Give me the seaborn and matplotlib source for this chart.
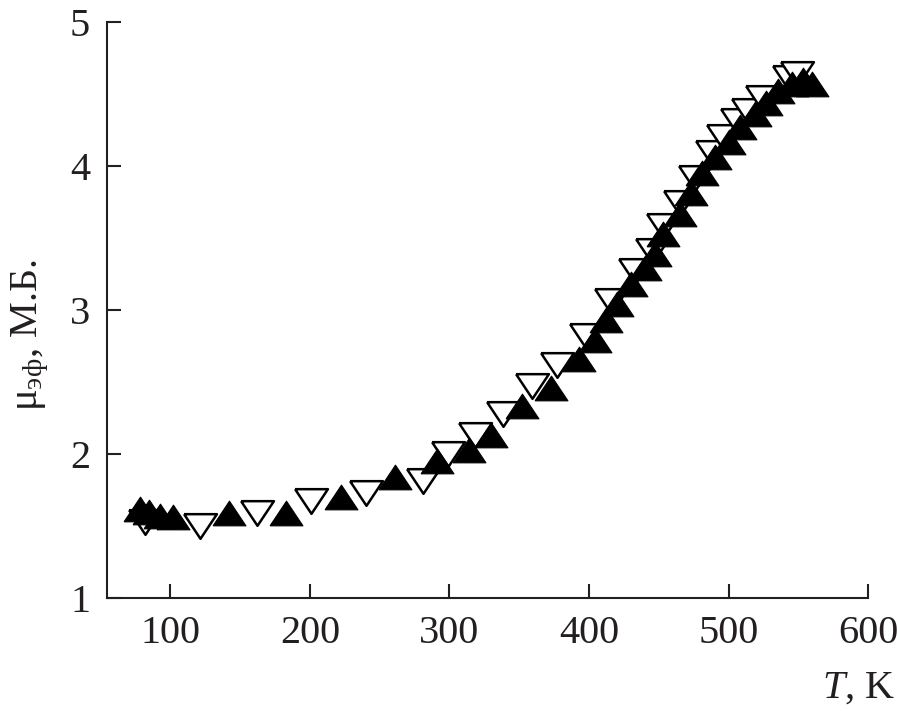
import numpy as np
import matplotlib
matplotlib.use("Agg")
import matplotlib.pyplot as plt
import seaborn as sns

# heating run (filled up-triangles)
t_up = [78, 85, 93, 102, 142, 183, 222, 261, 291, 314, 330, 352, 373, 393,
        404, 412, 420, 430, 440, 447, 453, 465, 473, 481, 490, 500, 508,
        519, 527, 535, 545, 553, 560]
mu_up = [1.62, 1.60, 1.57, 1.56, 1.59, 1.59, 1.70, 1.84, 1.95, 2.03, 2.13,
         2.33, 2.46, 2.66, 2.79, 2.93, 3.04, 3.18, 3.29, 3.39, 3.53, 3.67,
         3.81, 3.95, 4.06, 4.17, 4.27, 4.36, 4.44, 4.52, 4.57, 4.60, 4.57]

# cooling run (open down-triangles)
t_down = [82, 121, 162, 201, 240, 281, 299, 318, 338, 359, 377, 398, 416,
          433, 445, 453, 465, 476, 488, 496, 506, 514, 524, 543, 549]
mu_down = [1.53, 1.50, 1.59, 1.67, 1.73, 1.81, 2.00, 2.13, 2.28, 2.47, 2.62,
           2.82, 3.06, 3.27, 3.41, 3.58, 3.74, 3.92, 4.09, 4.20, 4.31, 4.38,
           4.47, 4.61, 4.64]

x_ticks = [100, 200, 300, 400, 500, 600]
y_ticks = [1, 2, 3, 4, 5]

sns.set_style("ticks")
plt.rcParams['font.family'] = ['Liberation Serif', 'DejaVu Serif']
plt.rcParams['mathtext.fontset'] = 'custom'
plt.rcParams['mathtext.rm'] = 'Liberation Serif'
plt.rcParams['mathtext.it'] = 'Liberation Serif:italic'

fig = plt.figure(figsize=(8.97, 7.11), dpi=100)
ax = fig.add_axes([0.119, 0.159, 0.849, 0.81])

# flattened triangles, wider than tall (closed paths)
up_marker = [(-1, -0.75), (1, -0.75), (0, 0.75), (-1, -0.75)]
down_marker = [(-1, 0.75), (1, 0.75), (0, -0.75), (-1, 0.75)]

sns.scatterplot(x=t_down, y=mu_down, marker=down_marker, s=560,
                facecolor='white', edgecolor='black', linewidth=1.8, ax=ax,
                zorder=2)
sns.scatterplot(x=t_up, y=mu_up, marker=up_marker, s=560,
                color='black', edgecolor='black', linewidth=0.8, ax=ax,
                zorder=3)

ax.set_xlim(54.5, 600)
ax.set_ylim(1, 5)
ax.set_xticks(x_ticks)
ax.set_yticks(y_ticks)
ax.tick_params(direction='in', length=10, width=1.5, labelsize=29, pad=12,
               colors='#231f20')
for side in ['top', 'right']:
    ax.spines[side].set_visible(False)
for side in ['left', 'bottom']:
    ax.spines[side].set_linewidth(1.5)
    ax.spines[side].set_color('#231f20')

ax.set_xlabel(r"$\mathit{T}$, K", fontsize=29, ha='right', va='center',
              color='#231f20')
ax.xaxis.set_label_coords(1.035, -0.156)
ax.set_ylabel(r"μ$_{\mathrm{эф}}$, М.Б.", fontsize=29, va='center',
              color='#231f20')
ax.yaxis.set_label_coords(-0.101, 0.457)

fig.savefig("out.png", dpi=100)
